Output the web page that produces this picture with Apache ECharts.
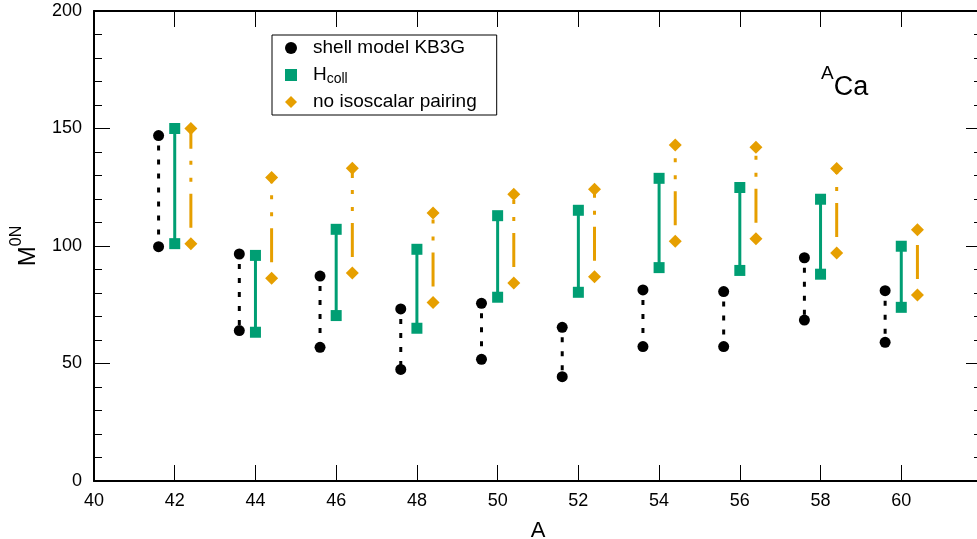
<!DOCTYPE html>
<html lang="en" style="height: 100%">

<head>
  <meta charset="utf-8" />
</head>

<body style="height: 100%; margin: 0; background: #fff">
  <div id="container" style="width: 977px; height: 539px"></div>

  <script type="text/javascript" src="https://fastly.jsdelivr.net/npm/echarts@6.0.0/dist/echarts.min.js"></script>

  <script type="text/javascript">
    // mass number A of each Ca isotope
    var massNumbers = [42, 44, 46, 48, 50, 52, 54, 56, 58, 60];

    // upper / lower end of each bar
    var shellTop = [147, 96.6, 87.2, 73.2, 75.6, 65.4, 81.3, 80.6, 95.0, 81.0];
    var shellBottom = [99.7, 64.0, 56.9, 47.5, 51.8, 44.4, 57.2, 57.2, 68.5, 59.0];
    var hcollTop = [150, 96.0, 107.1, 98.6, 112.9, 115.2, 128.8, 124.9, 119.9, 99.9];
    var hcollBottom = [101, 63.3, 70.4, 65.0, 78.2, 80.3, 90.8, 89.6, 88.0, 73.9];
    var noIsoTop = [150, 129.1, 133.1, 114.0, 122.0, 124.1, 143.0, 142.0, 133.0, 106.9];
    var noIsoBottom = [101, 86.3, 88.5, 76.0, 84.3, 86.9, 102.0, 103.1, 97.0, 79.1];

    var xTicks = { min: 40, max: 62, interval: 2 };
    var yTicks = { min: 0, max: 200, interval: 50 };

    var FONT = "'Liberation Sans', Arial, Helvetica, sans-serif";

    // each bar is two points, then a break so the line does not run on
    function bars(first, second, shift) {
      var out = [];
      massNumbers.forEach(function (a, i) {
        out.push([a + shift, first[i]]);
        out.push([a + shift, second[i]]);
        out.push([a + shift, '-']);
      });
      return out;
    }

    var dom = document.getElementById("container");
    var myChart = echarts.init(dom, null, { renderer: "canvas" });

    var xBase = {
      type: "value",
      min: xTicks.min,
      max: xTicks.max,
      interval: xTicks.interval,
      splitLine: { show: false },
      axisLine: { onZero: false, lineStyle: { color: "#000", width: 2 } },
      axisTick: { inside: true, length: 16, lineStyle: { color: "#000", width: 1 } }
    };
    var yBase = {
      type: "value",
      min: yTicks.min,
      max: yTicks.max,
      interval: yTicks.interval,
      splitLine: { show: false },
      axisLine: { onZero: false, lineStyle: { color: "#000", width: 2 } },
      axisTick: { inside: true, length: 16, lineStyle: { color: "#000", width: 1 } },
      minorTick: { show: true, splitNumber: 5, length: 8, lineStyle: { color: "#000", width: 1 } }
    };

    var option = {
      animation: false,
      backgroundColor: "#fff",
      textStyle: { fontFamily: FONT },
      grid: {
        left: 94,
        right: -5,
        top: 11,
        bottom: 58,
        containLabel: false,
        outerBoundsMode: "none"
      },
      xAxis: [
        Object.assign({}, xBase, {
          position: "bottom",
          name: "A",
          nameLocation: "middle",
          nameGap: 39,
          nameTextStyle: { fontFamily: FONT, fontSize: 22, color: "#000" },
          axisLabel: {
            showMaxLabel: false,
            margin: 11,
            fontFamily: FONT,
            fontSize: 18,
            color: "#000"
          }
        }),
        Object.assign({}, xBase, {
          position: "top",
          axisLabel: { show: false }
        })
      ],
      yAxis: [
        Object.assign({}, yBase, {
          position: "left",
          name: "{m|M}{s|0N}",
          nameLocation: "middle",
          nameRotate: 90,
          nameGap: 47,
          nameTextStyle: {
            color: "#000",
            rich: {
              m: { fontFamily: FONT, fontSize: 24, lineHeight: 38, color: "#000" },
              s: { fontFamily: FONT, fontSize: 16, lineHeight: 16, verticalAlign: "top", color: "#000" }
            }
          },
          axisLabel: { margin: 12, fontFamily: FONT, fontSize: 18, color: "#000" }
        }),
        Object.assign({}, yBase, {
          position: "right",
          axisLabel: { show: false }
        })
      ],
      legend: {
        orient: "vertical",
        left: 272,
        top: 35,
        padding: [2, 20, 2, 13],
        itemWidth: 12,
        itemHeight: 12,
        itemGap: 5,
        borderColor: "#000",
        borderWidth: 1,
        borderRadius: 0,
        backgroundColor: "#fff",
        selectedMode: false,
        data: [
          { name: "shell model KB3G", icon: "circle" },
          { name: "Hcoll", icon: "rect" },
          { name: "no isoscalar pairing", icon: "diamond" }
        ],
        formatter: function (name) {
          return name === "Hcoll" ? "{h|H}{s|coll}" : name;
        },
        textStyle: {
          fontFamily: FONT,
          fontSize: 19,
          lineHeight: 22,
          padding: [0, 0, 0, 11],
          color: "#000",
          rich: {
            h: { fontFamily: FONT, fontSize: 19, lineHeight: 22, color: "#000" },
            s: { fontFamily: FONT, fontSize: 14, lineHeight: 14, verticalAlign: "bottom", color: "#000" }
          }
        }
      },
      graphic: [
        {
          type: "text",
          left: 821,
          top: 64,
          style: {
            text: "{a|A}{c|Ca}",
            fill: "#000",
            rich: {
              a: { fontFamily: FONT, fontSize: 19, lineHeight: 19, verticalAlign: "top", fill: "#000" },
              c: { fontFamily: FONT, fontSize: 27, lineHeight: 48, fill: "#000" }
            }
          }
        }
      ],
      series: [
        {
          name: "shell model KB3G",
          type: "line",
          data: bars(shellTop, shellBottom, -0.4),
          symbol: "circle",
          symbolSize: 11,
          showAllSymbol: true,
          connectNulls: false,
          itemStyle: { color: "#000" },
          lineStyle: { color: "#000", width: 3, type: [5, 9], dashOffset: 4 },
          emphasis: { disabled: true }
        },
        {
          name: "Hcoll",
          type: "line",
          data: bars(hcollTop, hcollBottom, 0),
          symbol: "rect",
          symbolSize: 11,
          showAllSymbol: true,
          connectNulls: false,
          itemStyle: { color: "#009e73" },
          lineStyle: { color: "#009e73", width: 3 },
          emphasis: { disabled: true }
        },
        {
          name: "no isoscalar pairing",
          type: "line",
          data: bars(noIsoBottom, noIsoTop, 0.4),
          symbol: "diamond",
          symbolSize: 13,
          showAllSymbol: true,
          connectNulls: false,
          itemStyle: { color: "#e69f00" },
          lineStyle: { color: "#e69f00", width: 3, type: [34, 12, 4, 13, 4, 12], dashOffset: 63 },
          emphasis: { disabled: true }
        }
      ]
    };

    myChart.setOption(option);
    window.addEventListener("resize", myChart.resize);
  </script>
</body>

</html>
